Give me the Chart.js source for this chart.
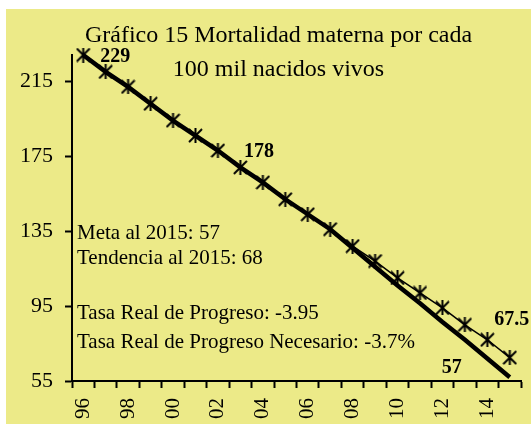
<!DOCTYPE html>
<html>
<head>
<meta charset="utf-8">
<script src="https://cdn.jsdelivr.net/npm/chart.js@4"></script>
<style>
  html, body { margin: 0; padding: 0; background: #ffffff; }
  #frame { position: absolute; left: 6px; top: 9px; width: 525px; height: 415px; background: rgb(236,234,136); }
  canvas { display: block; }
</style>
</head>
<body>
<div id="frame"><canvas id="c" width="525" height="415"></canvas></div>
<script>
const years = ['96','97','98','99','00','01','02','03','04','05','06','07','08','09','10','11','12','13','14','15'];
const observed = [229, 220, 212, 203, 194, 186, 178, 169, 161, 152, 144, 136, 127, 119, 110, 102, 94, 85, 77, 67.5];
const required = [229, 220, 212, 203, 194, 186, 178, 169, 161, 152, 144, 136, 126, 116, 106, 96.5, 86.5, 77, 67, 57];
const yTicks = [55, 95, 135, 175, 215];
const titleLines = ['Gráfico 15 Mortalidad materna por cada', '100 mil nacidos vivos'];
const notes = ['Meta al 2015: 57', 'Tendencia al 2015: 68', 'Tasa Real de Progreso: -3.95', 'Tasa Real de Progreso Necesario: -3.7%'];

const FONT = 'Liberation Serif';

function makeStar(size, lw) {
  const c = document.createElement('canvas');
  c.width = size; c.height = size;
  const g = c.getContext('2d');
  g.strokeStyle = '#000';
  g.lineWidth = lw;
  g.beginPath();
  g.moveTo(1, 1); g.lineTo(size - 1, size - 1);
  g.moveTo(size - 1, 1); g.lineTo(1, size - 1);
  g.moveTo(size / 2, 0); g.lineTo(size / 2, size);
  g.stroke();
  return c;
}
const star = makeStar(15, 2);

const titleShift = {
  id: 'titleShift',
  afterLayout(chart) {
    const t = chart.titleBlock;
    if (t) { t.left += 30; }
  }
};

const textPlugin = {
  id: 'texts',
  afterDatasetsDraw(chart) {
    const ctx = chart.ctx;
    const xs = chart.scales.x, ys = chart.scales.y;
    const area = chart.chartArea;
    ctx.save();
    ctx.fillStyle = '#000';
    ctx.textBaseline = 'middle';
    ctx.font = 'bold 20px "' + FONT + '"';
    ctx.textAlign = 'center';
    const lbl = (i, arr, dx, dy) => {
      ctx.fillText(String(arr[i]), xs.getPixelForValue(i) + dx, ys.getPixelForValue(arr[i]) + dy);
    };
    lbl(0, observed, 32, 2);
    lbl(6, observed, 41, 1);
    lbl(19, required, -58, -9);
    lbl(19, observed, 2, -38);
    ctx.font = '21px "' + FONT + '"';
    ctx.textAlign = 'left';
    const offs = [178, 203, 258, 287];
    notes.forEach((t, k) => ctx.fillText(t, area.left + 5, area.top + offs[k]));
    ctx.restore();
  }
};

new Chart(document.getElementById('c'), {
  type: 'line',
  data: {
    labels: years,
    datasets: [
      {
        label: 'Tendencia',
        data: observed,
        borderColor: '#000',
        borderWidth: 1.5,
        pointStyle: star,
        pointRadius: 7,
        pointHoverRadius: 7,
        tension: 0,
        fill: false,
        clip: false
      },
      {
        label: 'Meta',
        data: required,
        borderColor: '#000',
        borderWidth: 4.5,
        pointRadius: 0,
        pointHoverRadius: 0,
        tension: 0,
        fill: false,
        clip: false
      }
    ]
  },
  options: {
    responsive: false,
    animation: false,
    devicePixelRatio: 1,
    layout: { padding: { left: 0, right: 10, top: 0, bottom: 0 } },
    plugins: {
      legend: { display: false },
      tooltip: { enabled: false },
      title: {
        display: true,
        text: titleLines,
        color: '#000',
        font: { family: FONT, size: 24, weight: 'normal', lineHeight: 1.45 },
        padding: { top: 9, bottom: -32.6 }
      }
    },
    scales: {
      x: {
        type: 'category',
        offset: true,
        grid: { offset: true, drawOnChartArea: false, drawTicks: true, tickLength: 7, tickWidth: 2, tickColor: '#000', color: '#000' },
        border: { color: '#000', width: 2 },
        ticks: {
          autoSkip: false,
          maxRotation: 90,
          minRotation: 90,
          padding: 10,
          color: '#000',
          font: { family: FONT, size: 21 },
          callback: (v, i) => (i % 2 === 0 ? years[i] : '')
        },
        afterFit: (axis) => { axis.height = 43; axis.paddingLeft = 0; axis.paddingRight = 0; }
      },
      y: {
        min: 55,
        max: 229,
        afterBuildTicks: (axis) => { axis.ticks = yTicks.map(v => ({ value: v })); },
        grid: { drawOnChartArea: false, drawTicks: true, tickLength: 7, tickWidth: 2, tickColor: '#000', color: '#000' },
        border: { color: '#000', width: 2 },
        ticks: {
          padding: 12,
          color: '#000',
          font: { family: FONT, size: 22 }
        },
        afterFit: (axis) => { axis.width = 66; axis.paddingTop = 0; axis.paddingBottom = 0; }
      }
    }
  },
  plugins: [titleShift, textPlugin]
});
</script>
</body>
</html>
